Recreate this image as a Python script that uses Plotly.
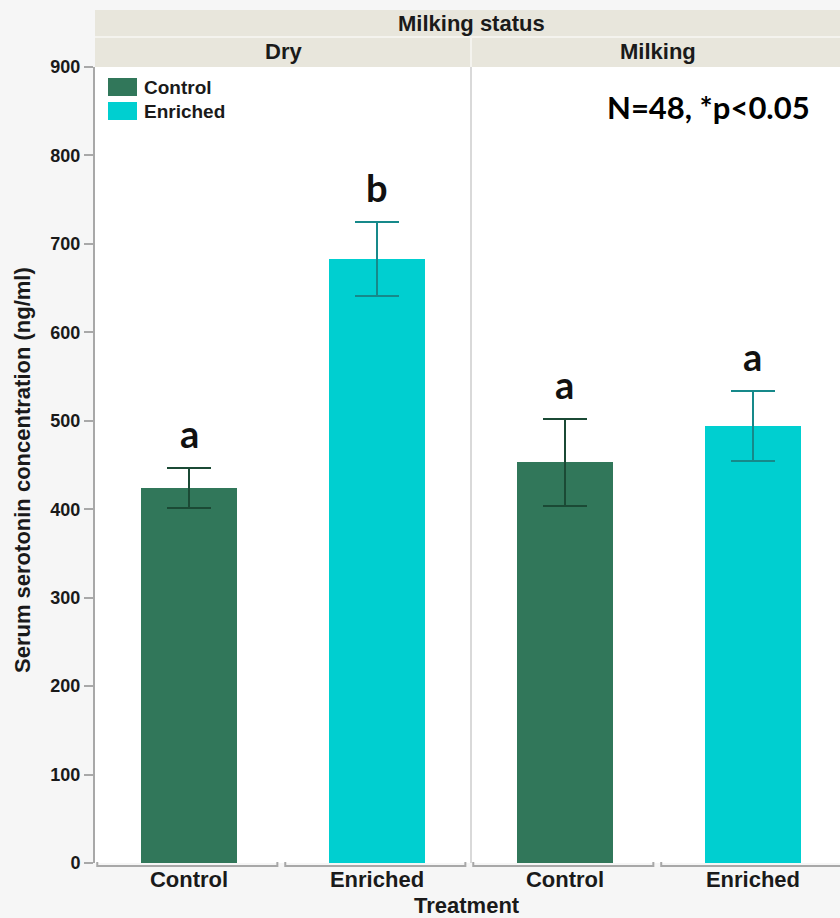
import plotly.graph_objects as go

# Serum serotonin by treatment within milking status (mean ± SE)
treatments = ["Control", "Enriched"]
statuses = ["Dry", "Milking"]
means = {"Dry": [424, 683], "Milking": [453, 494]}
errors = {"Dry": [23, 42], "Milking": [49, 40]}
letters = {"Dry": ["a", "b"], "Milking": ["a", "a"]}

bar_colors = {"Control": "#31775a", "Enriched": "#00cfd0"}
err_colors = {"Control": "#1b4a35", "Enriched": "#16898a"}

W, H = 840, 918
ML, MR, MT, MB = 95, 0, 67, 55
PW = W - ML - MR
PH = H - MT - MB


def px_x(x):
    return (x - ML) / PW


def px_y(y):
    return (H - MB - y) / PH


split = px_x(471)
axes = {"Dry": "x", "Milking": "x2"}

fig = go.Figure()
annotations = []
for st in statuses:
    xa = axes[st]
    for i, tr in enumerate(treatments):
        fig.add_trace(go.Bar(
            x=[tr], y=[means[st][i]], xaxis=xa, yaxis="y",
            width=0.51, marker=dict(color=bar_colors[tr], line=dict(width=0)),
            error_y=dict(type="data", array=[errors[st][i]], visible=True,
                         color=err_colors[tr], thickness=2, width=22),
            showlegend=False, name=tr,
        ))
        annotations.append(dict(
            x=tr, y=means[st][i] + errors[st][i], xref=xa, yref="y",
            text=letters[st][i], showarrow=False, yanchor="bottom", yshift=10,
            font=dict(family="Lato", size=38, color="#111111", weight="bold"),
        ))

tick_font = dict(family="Liberation Sans", size=18, color="#1a1a1a", weight="bold")
cat_font = dict(family="Liberation Sans", size=22, color="#1a1a1a", weight="bold")

shapes = []
# header strips
hdr = "#e8e6dc"
y_mid = 1 + 30 / PH
y_top = 1 + 57 / PH
shapes.append(dict(type="rect", xref="paper", yref="paper", x0=0, x1=1, y0=1, y1=y_top,
                   fillcolor=hdr, line=dict(width=0), layer="below"))
shapes.append(dict(type="line", xref="paper", yref="paper", x0=0, x1=1, y0=y_mid, y1=y_mid,
                   line=dict(color="#f4f3ee", width=2)))
shapes.append(dict(type="line", xref="paper", yref="paper", x0=split, x1=split, y0=1, y1=y_mid,
                   line=dict(color="#f4f3ee", width=2)))
# panel divider
shapes.append(dict(type="line", xref="paper", yref="paper", x0=split, x1=split, y0=0, y1=1,
                   line=dict(color="#d9d9d9", width=2)))
# category brackets under the axis
for st in statuses:
    xa = axes[st]
    for k in range(len(treatments)):
        x0, x1 = k - 0.488, k + 0.47
        ya, yb = px_y(866), px_y(862)
        shapes.append(dict(type="path", xref=xa, yref="paper",
                           path=f"M {x0},{yb} L {x0},{ya} L {x1},{ya} L {x1},{yb}",
                           line=dict(color="#a8a8a8", width=2)))
# legend swatches
leg_rows = [("Control", 78, 96), ("Enriched", 102, 120)]
for name, t, b in leg_rows:
    shapes.append(dict(type="rect", xref="paper", yref="paper",
                       x0=px_x(108), x1=px_x(137), y0=px_y(b), y1=px_y(t),
                       fillcolor=bar_colors[name], line=dict(width=0)))

hdr_font = dict(family="Liberation Sans", size=22, color="#1a1a1a", weight="bold")
for txt, cx, cy in [("Milking status", 471, 23), ("Dry", 283, 52), ("Milking", 658, 52)]:
    annotations.append(dict(text=txt, xref="paper", yref="paper",
                            x=px_x(cx), y=px_y(cy), xanchor="center", yanchor="middle",
                            showarrow=False, font=hdr_font))
for name, t, b in leg_rows:
    annotations.append(dict(text=name, xref="paper", yref="paper", x=px_x(142),
                            y=px_y((t + b) / 2), xanchor="left", yanchor="middle",
                            showarrow=False,
                            font=dict(family="Liberation Sans", size=19, color="#1a1a1a",
                                      weight="bold")))
annotations.append(dict(text="N=48, *p<0.05", xref="paper", yref="paper",
                        x=px_x(708), y=px_y(107), showarrow=False,
                        xanchor="center", yanchor="middle",
                        font=dict(family="Lato", size=31, color="#000000", weight="bold")))
annotations.append(dict(text="Treatment", xref="paper", yref="paper",
                        x=px_x(467), y=px_y(905), showarrow=False,
                        xanchor="center", yanchor="middle",
                        font=dict(family="Liberation Sans", size=22, color="#1a1a1a",
                                  weight="bold")))
annotations.append(dict(text="Serum serotonin concentration (ng/ml)", xref="paper",
                        yref="paper", x=px_x(22), y=px_y(470), textangle=-90,
                        xanchor="center", yanchor="middle", showarrow=False,
                        font=dict(family="Liberation Sans", size=22, color="#1a1a1a",
                                  weight="bold")))

fig.update_layout(
    width=W, height=H,
    margin=dict(l=ML, r=MR, t=MT, b=MB, pad=0),
    paper_bgcolor="#f6f6f6", plot_bgcolor="#ffffff",
    showlegend=False, bargap=0,
    xaxis=dict(domain=[0, split], type="category", categoryorder="array",
               categoryarray=treatments, range=[-0.5, 1.5], anchor="y",
               showgrid=False, zeroline=False, showline=False, ticks="",
               ticklabelstandoff=1, tickfont=cat_font, fixedrange=True),
    xaxis2=dict(domain=[split, 1], type="category", categoryorder="array",
                categoryarray=treatments, range=[-0.5, 1.463], anchor="y",
                showgrid=False, zeroline=False, showline=False, ticks="",
                ticklabelstandoff=1, tickfont=cat_font, fixedrange=True),
    yaxis=dict(range=[0, 900], dtick=100, tick0=0, anchor="x",
               showgrid=False, zeroline=False, showline=True,
               linecolor="#a8a8a8", linewidth=2, ticks="outside", ticklen=9,
               tickcolor="#a8a8a8", tickwidth=2, tickfont=tick_font, fixedrange=True),
    shapes=shapes, annotations=annotations,
)

fig.write_html("out.html")
